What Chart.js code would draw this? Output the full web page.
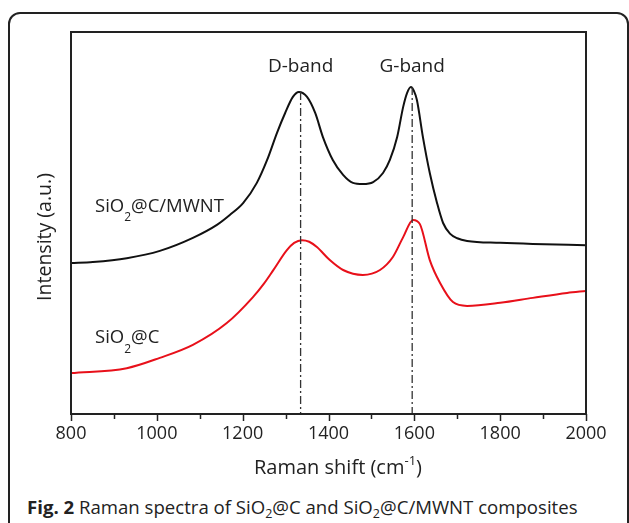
<!DOCTYPE html>
<html><head><meta charset="utf-8">
<script src="https://cdn.jsdelivr.net/npm/chart.js@4/dist/chart.umd.min.js"></script>
<style>
html,body{margin:0;padding:0;background:#fff;width:629px;height:523px;overflow:hidden;font-family:"Open Sans",sans-serif;}
#frame{position:absolute;left:8px;top:12px;width:621px;height:560px;border:2px solid #222;border-radius:12px;box-sizing:border-box;}
#wrap{position:absolute;left:0;top:0;width:629px;height:480px;}
#caption{position:absolute;left:27px;top:495px;font-size:18.6px;color:#222;white-space:nowrap;line-height:24px;}
#caption sub{font-size:12.5px;line-height:0;vertical-align:-4px;}
</style></head><body>
<div id="frame"></div>
<div id="wrap"><canvas id="c" width="629" height="480"></canvas></div>
<div id="caption"><b>Fig. 2</b> Raman spectra of SiO<sub>2</sub>@C and SiO<sub>2</sub>@C/MWNT composites</div>
<script>
// Raman shift (cm^-1) and intensity (a.u.)
const shiftMWNT = [800, 851, 930, 1007, 1084, 1140, 1170, 1201, 1233, 1257, 1280, 1299, 1317, 1331, 1350, 1369, 1387, 1410, 1434, 1457, 1480, 1504, 1527, 1543, 1560, 1574, 1583, 1592, 1599, 1606, 1620, 1636, 1653, 1667, 1683, 1700, 1723, 1800, 1876, 2000];
const intensityMWNT = [39.5, 39.8, 40.8, 42.7, 46.1, 49.5, 52.1, 55.2, 60.5, 66.5, 73.6, 78.8, 83.0, 84.3, 83.0, 78.8, 72.5, 66.5, 62.6, 60.5, 60.2, 60.7, 63.1, 66.5, 72.5, 80.4, 84.0, 85.6, 84.6, 82.2, 72.5, 63.1, 55.2, 50.0, 47.2, 46.0, 45.3, 44.8, 44.5, 44.2];
const shiftSiO2C = [800, 930, 1007, 1084, 1163, 1224, 1250, 1271, 1303, 1320, 1338, 1355, 1373, 1403, 1434, 1480, 1520, 1550, 1574, 1597, 1613, 1636, 1660, 1690, 1723, 1800, 1876, 1956, 2000];
const intensitySiO2C = [10.7, 12.0, 14.7, 18.1, 23.8, 30.6, 34.2, 37.6, 42.9, 44.8, 45.5, 45.1, 43.7, 40.3, 37.7, 36.4, 37.7, 41.1, 46.3, 50.8, 49.7, 40.3, 34.3, 29.3, 28.3, 29.1, 30.4, 31.7, 32.2];
const bandPositions = [1335, 1595];
const bandTops = [84.3, 85.6];
const bandLabels = ['D-band', 'G-band'];
const xTickValues = [800, 1000, 1200, 1400, 1600, 1800, 2000];

const FONT = '"Open Sans", sans-serif';
const toPts = (xs, ys) => xs.map((x, i) => ({x: x, y: ys[i]}));

const bandSets = bandPositions.map((p, i) => ({
  data: [{x: p, y: bandTops[i]}, {x: p, y: 0}],
  borderColor: '#333', borderWidth: 1.3, borderDash: [8, 3, 2, 3],
  pointRadius: 0, tension: 0
}));

function drawParts(ctx, x, baseline, parts, size, subSize) {
  let cx = x;
  parts.forEach(p => {
    ctx.font = (p.sub || p.sup ? subSize : size) + 'px ' + FONT;
    const dy = p.sub ? 9.5 : (p.sup ? -9.5 : 0);
    ctx.fillText(p.t, cx, baseline + dy);
    cx += ctx.measureText(p.t).width;
  });
}
function partsWidth(ctx, parts, size, subSize) {
  let w = 0;
  parts.forEach(p => { ctx.font = (p.sub || p.sup ? subSize : size) + 'px ' + FONT; w += ctx.measureText(p.t).width; });
  return w;
}

const decor = {
  id: 'decor',
  afterDraw(chart) {
    const {ctx, chartArea: a, scales: {x, y}} = chart;
    ctx.save();
    // frame
    ctx.strokeStyle = '#222'; ctx.lineWidth = 2;
    ctx.strokeRect(a.left, a.top, a.right - a.left, a.bottom - a.top);
    // ticks (major every 200, minor every 100)
    ctx.lineWidth = 1.5;
    for (let v = 800; v <= 2000; v += 100) {
      const px = Math.round(x.getPixelForValue(v)) + 0.5;
      const len = xTickValues.includes(v) ? 7 : 5;
      ctx.beginPath(); ctx.moveTo(px, a.bottom); ctx.lineTo(px, a.bottom + len); ctx.stroke();
    }
    ctx.fillStyle = '#222';
    // band labels
    ctx.font = '19px ' + FONT; ctx.textAlign = 'center'; ctx.textBaseline = 'middle';
    bandPositions.forEach((p, i) => ctx.fillText(bandLabels[i], x.getPixelForValue(p), y.getPixelForValue(91.0)));
    // series labels
    ctx.textAlign = 'left'; ctx.textBaseline = 'alphabetic';
    const lx = x.getPixelForValue(856);
    drawParts(ctx, lx, y.getPixelForValue(54.7) + 6.5, [{t: 'SiO'}, {t: '2', sub: true}, {t: '@C/MWNT'}], 18.5, 12);
    drawParts(ctx, lx, y.getPixelForValue(20.2) + 6.5, [{t: 'SiO'}, {t: '2', sub: true}, {t: '@C'}], 18.5, 12);
    // x title
    const xt = [{t: 'Raman shift (cm'}, {t: '-1', sup: true}, {t: ')'}];
    const w = partsWidth(ctx, xt, 20, 13);
    drawParts(ctx, 338 - w / 2, 474, xt, 20, 13);
    // y title
    ctx.translate(45, 237); ctx.rotate(-Math.PI / 2);
    ctx.font = '19.5px ' + FONT; ctx.textAlign = 'center'; ctx.textBaseline = 'middle';
    ctx.fillText('Intensity (a.u.)', 0, 0);
    ctx.restore();
  }
};

new Chart(document.getElementById('c'), {
  type: 'line',
  data: {
    datasets: [
      ...bandSets,
      {label: 'SiO2@C/MWNT', data: toPts(shiftMWNT, intensityMWNT), borderColor: '#111', borderWidth: 2, pointRadius: 0, cubicInterpolationMode: 'monotone'},
      {label: 'SiO2@C', data: toPts(shiftSiO2C, intensitySiO2C), borderColor: '#e8101a', borderWidth: 2, pointRadius: 0, cubicInterpolationMode: 'monotone'}
    ]
  },
  options: {
    responsive: false, animation: false,
    layout: {padding: {left: 71, right: 43, top: 32, bottom: 0}},
    plugins: {legend: {display: false}, tooltip: {enabled: false}},
    scales: {
      x: {
        type: 'linear', min: 800, max: 2000,
        ticks: {stepSize: 100, autoSkip: false, maxRotation: 0, padding: 2, color: '#222', font: {family: FONT, size: 18},
          callback: v => xTickValues.includes(v) ? String(v) : ''},
        grid: {display: true, drawOnChartArea: false, drawTicks: true, tickLength: 7, color: 'rgba(0,0,0,0)', tickColor: 'rgba(0,0,0,0)'},
        border: {display: false},
        afterFit: s => { s.height = 66; }
      },
      y: {display: false, min: 0, max: 100}
    }
  },
  plugins: [decor]
});
</script>
</body></html>
